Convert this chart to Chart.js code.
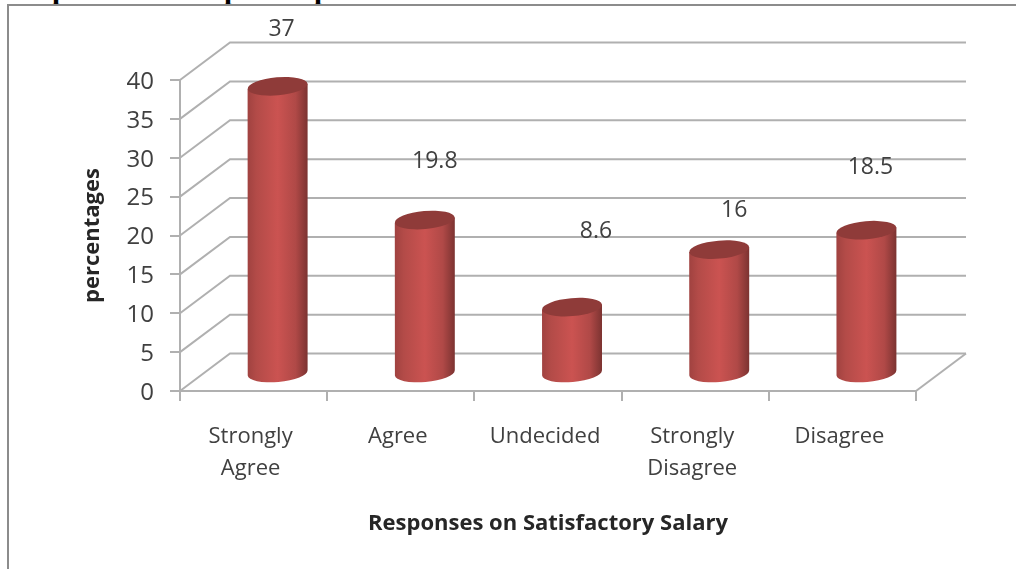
<!DOCTYPE html>
<html>
<head>
<meta charset="utf-8">
<title>Responses on Satisfactory Salary</title>
<script src="https://cdn.jsdelivr.net/npm/chart.js@4/dist/chart.umd.min.js"></script>
<style>
html, body { margin: 0; padding: 0; background: #fff; overflow: hidden; }
#wrap { position: relative; width: 1016px; height: 569px; overflow: hidden; }
#frame { position: absolute; left: 7px; top: 4px; width: 1009px; height: 565px; border-left: 2px solid #8c8c8c; border-top: 2px solid #8c8c8c; box-sizing: border-box; }
canvas { position: absolute; left: 0; top: 0; filter: blur(0.7px); }
.cut { position: absolute; top: -26px; font: bold 30px "Liberation Serif", serif; color: #000; line-height: 30px; }
</style>
</head>
<body>
<div id="wrap">
	<span class="cut" style="left:52px">p</span>
	<span class="cut" style="left:224px">p</span>
	<span class="cut" style="left:314px">p</span>
	<div id="frame"></div>
	<canvas id="chart1" width="1016" height="569"></canvas>
</div>
<script>
var categories = [['Strongly', 'Agree'], 'Agree', 'Undecided', ['Strongly', 'Disagree'], 'Disagree'];
var percentages = [37, 19.8, 8.6, 16, 18.5];
var percentLabels = ['37', '19.8', '8.6', '16', '18.5'];

var fontFamily = '"Open Sans", Lato, sans-serif';
var textColor = '#404040';
var gridColor = '#b0b0b0';

// 3d look: back wall offset from the front axes
var wallDx = 50, wallDy = -37.5;
var barDx = 24, barDy = -17;
// data labels in the picture float away from the bar tops
var labelDx = [4, 10, 24, 15, 4];
var labelDy = [-57, -59, -76, -39, -63];

var wallPlugin = {
	id: 'wall',
	beforeDatasetsDraw: function(chart) {
		var c = chart.ctx, y = chart.scales.y, a = chart.chartArea;
		c.save();
		c.strokeStyle = gridColor;
		c.lineWidth = 2;
		y.ticks.forEach(function(t) {
			var py = y.getPixelForValue(t.value);
			c.beginPath();
			c.moveTo(a.left, py);
			c.lineTo(a.left + wallDx, py + wallDy);
			c.lineTo(a.right + wallDx, py + wallDy);
			c.stroke();
		});
		// floor right edge
		c.beginPath();
		c.moveTo(a.right, a.bottom);
		c.lineTo(a.right + wallDx, a.bottom + wallDy);
		c.stroke();
		c.restore();
	}
};

var cylinderPlugin = {
	id: 'cylinder',
	afterDatasetsDraw: function(chart) {
		var c = chart.ctx;
		var tilt = -5 * Math.PI / 180;
		chart.getDatasetMeta(0).data.forEach(function(bar, i) {
			var cx = bar.x + barDx, top = bar.y + barDy, base = bar.base + barDy;
			var rx = bar.width / 2, ry = 9;
			var sin = Math.sin(tilt) * rx;

			var g = c.createLinearGradient(cx - rx, 0, cx + rx, 0);
			g.addColorStop(0, '#a04240');
			g.addColorStop(0.15, '#b34b48');
			g.addColorStop(0.5, '#cb5351');
			g.addColorStop(0.8, '#b04947');
			g.addColorStop(1, '#7c3331');

			c.save();
			c.fillStyle = g;
			c.beginPath();
			c.moveTo(cx - rx, top - sin);
			c.lineTo(cx + rx, top + sin);
			c.lineTo(cx + rx, base + sin);
			c.ellipse(cx, base, rx, ry, tilt, 0, Math.PI);
			c.closePath();
			c.fill();

			c.fillStyle = '#8f3b39';
			c.beginPath();
			c.ellipse(cx, top, rx, ry, tilt, 0, Math.PI * 2);
			c.fill();

			c.fillStyle = textColor;
			c.font = '23px ' + fontFamily;
			c.textAlign = 'center';
			c.textBaseline = 'middle';
			c.fillText(percentLabels[i], cx + labelDx[i], top + labelDy[i]);
			c.restore();
		});
	}
};

var ctx = document.getElementById('chart1').getContext('2d');
var chart1 = new Chart(ctx, {
	type: 'bar',
	data: {
		labels: categories,
		datasets: [{
			label: 'percentages',
			data: percentages,
			backgroundColor: 'transparent',
			borderWidth: 0,
			barThickness: 60
		}]
	},
	options: {
		responsive: false,
		animation: false,
		layout: { padding: { top: 80, right: 100, left: 0, bottom: 0 } },
		plugins: { legend: { display: false }, tooltip: { enabled: false } },
		scales: {
			x: {
				afterFit: function(s) { s.height = 178; },
				grid: { drawOnChartArea: false, color: gridColor, lineWidth: 2, tickLength: 10 },
				border: { color: gridColor, width: 2 },
				ticks: { color: textColor, maxRotation: 0, autoSkip: false, padding: 20, labelOffset: -3, font: { family: fontFamily, size: 22, lineHeight: 1.45 } },
				title: { display: true, text: 'Responses on Satisfactory Salary', color: '#262626', padding: { bottom: 32 }, font: { family: fontFamily, size: 22, weight: 'bold' } }
			},
			y: {
				min: 0,
				max: 40,
				afterFit: function(s) { s.width = 180; },
				grid: { drawOnChartArea: false, color: gridColor, lineWidth: 2, tickLength: 10 },
				border: { color: gridColor, width: 2 },
				ticks: { stepSize: 5, color: textColor, padding: 16, labelOffset: 2, font: { family: fontFamily, size: 24 } },
				title: { display: true, text: 'percentages', color: '#262626', padding: { top: 80, bottom: 0 }, font: { family: fontFamily, size: 22, weight: 'bold' } }
			}
		}
	},
	plugins: [wallPlugin, cylinderPlugin]
});
</script>
</body>
</html>
